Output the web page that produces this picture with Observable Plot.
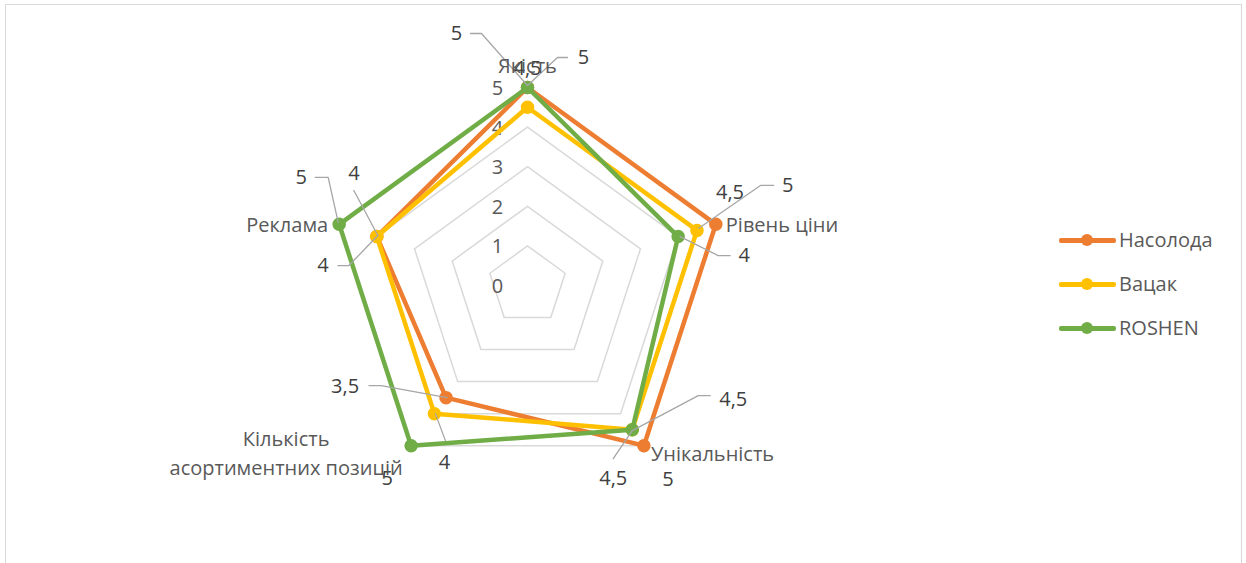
<!DOCTYPE html>
<html>
<head>
<meta charset="utf-8">
<script src="https://cdn.jsdelivr.net/npm/d3@7"></script>
<script src="https://cdn.jsdelivr.net/npm/@observablehq/plot@0.6"></script>
<style>
  html, body { margin: 0; padding: 0; background: #fff; overflow: hidden; }
  body { width: 1246px; height: 563px; position: relative; font-family: "Open Sans", Roboto, sans-serif; }
  #frame { position: absolute; left: 5px; top: 4px; width: 1237px; height: 600px; border: 1.5px solid #d9d9d9; box-sizing: border-box; }
  #chart { position: absolute; left: 0; top: 0; }
  #legend { position: absolute; left: 1059px; top: 226px; }
  .li { position: relative; height: 44px; }
  .ln { position: absolute; left: 0; top: 12px; width: 57px; height: 4.5px; border-radius: 2px; }
  .dot { position: absolute; left: 22px; top: 8px; width: 12px; height: 12px; border-radius: 50%; }
  .lt { position: absolute; left: 60px; top: 1px; font-size: 20px; color: #595959; white-space: nowrap; line-height: 26px; }
</style>
</head>
<body>
<div id="frame"></div>
<div id="chart"></div>
<div id="legend"></div>
<script>
// ---- data ----
const categories = ["Якість", "Рівень ціни", "Унікальність", "Кількість\nасортиментних позицій", "Реклама"];
const seriesNames = ["Насолода", "Вацак", "ROSHEN"];
const nasoloda = [5, 5, 5, 3.5, 4];
const vatsak = [4.5, 4.5, 4.5, 4, 4];
const roshen = [5, 4, 4.5, 5, 5];
const ticks = [0, 1, 2, 3, 4, 5];
const seriesValues = [nasoloda, vatsak, roshen];
const colors = ["#ED7D31", "#FFC000", "#70AD47"];

// ---- layout (styles, pixel offsets) ----
const W = 1246, H = 563, CX = 527, CY = 285, U = 39.6, FS = 20;
// label placement per [series][category]: text offset and leader polyline (px, relative to the point)
const labelLayout = [
  [ {dx:-71,dy:-54,lead:[[-57,-54],[-46,-54],[0,-2]]}, {dx:72,dy:-39,lead:[[58,-39],[45,-39],[-17,4]]}, {dx:24,dy:34}, {dx:-101,dy:-11,lead:[[-77,-12],[-65,-12],[1,0]]}, {dx:-23,dy:-63,lead:[[-23,-46],[1,-1]]} ],
  [ {dx:0,dy:-39}, {dx:33,dy:-38}, {dx:-19,dy:49,lead:[[-19,29],[0,1]]}, {dx:10,dy:49,lead:[[11,27],[1,0]]}, {dx:-54,dy:29,lead:[[-39,29],[-28,29],[1,-1]]} ],
  [ {dx:56,dy:-30,lead:[[40,-30],[30,-30],[0,-2]]}, {dx:66,dy:19,lead:[[52,19],[40,19],[2,0]]}, {dx:101,dy:-30,lead:[[78,-34],[66,-34],[0,1]]}, {dx:-24,dy:33}, {dx:-38,dy:-47,lead:[[-24,-47],[-11,-47],[-1,-2]]} ]
];
const catLayout = [
  {dx:0, dy:-24, anchor:"middle"},
  {dx:10, dy:-2, anchor:"start"},
  {dx:7, dy:6, anchor:"start"},
  {dx:-125, dy:6, anchor:"middle"},
  {dx:-11, dy:-2, anchor:"end"}
];

const ang = i => i * 2 * Math.PI / categories.length;
const px = (i, r) => r * Math.sin(ang(i));
const py = (i, r) => r * Math.cos(ang(i));
const fmt = v => String(v).replace(".", ",");

// grid rings
const grid = [];
for (const t of ticks.filter(t => t > 0)) categories.forEach((c, i) => grid.push({t, x: px(i, t), y: py(i, t)}));

// series points
const pts = [];
seriesValues.forEach((vals, s) => vals.forEach((v, i) => pts.push({s: seriesNames[s], si: s, i, v, x: px(i, v), y: py(i, v)})));

const marks = [];
marks.push(Plot.line(grid, {x: "x", y: "y", z: "t", curve: "linear-closed", stroke: "#d9d9d9", strokeWidth: 1.5}));
marks.push(Plot.text(ticks, {x: () => 0, y: d => d, text: d => String(d), dx: -30, dy: 1, fill: "#595959", fontSize: FS}));

seriesNames.forEach((name, s) => {
  const d = pts.filter(p => p.si === s);
  marks.push(Plot.line(d, {x: "x", y: "y", curve: "linear-closed", stroke: colors[s], strokeWidth: 4.5, strokeLinejoin: "round"}));
  marks.push(Plot.dot(d, {x: "x", y: "y", r: 6, fill: colors[s], stroke: colors[s]}));
});

// leader lines and data labels
pts.forEach(p => {
  const L = labelLayout[p.si][p.i];
  if (L.lead) {
    const path = L.lead.map(([ox, oy]) => ({x: p.x + ox / U, y: p.y - oy / U}));
    marks.push(Plot.line(path, {x: "x", y: "y", stroke: "#a6a6a6", strokeWidth: 1.3}));
  }
});
pts.forEach(p => {
  const L = labelLayout[p.si][p.i];
  marks.push(Plot.text([p], {x: "x", y: "y", text: d => fmt(d.v), dx: L.dx, dy: L.dy, fill: "#404040", fontSize: FS}));
});

// category labels
categories.forEach((c, i) => {
  const L = catLayout[i];
  marks.push(Plot.text([c], {x: () => px(i, 5), y: () => py(i, 5), text: d => d, dx: L.dx, dy: L.dy, textAnchor: L.anchor, lineHeight: 1.45, fill: "#595959", fontSize: FS}));
});

const chart = Plot.plot({
  width: W, height: H,
  marginTop: 0, marginRight: 0, marginBottom: 0, marginLeft: 0,
  x: {domain: [-CX / U, (W - CX) / U], axis: null},
  y: {domain: [-(H - CY) / U, CY / U], axis: null},
  style: {fontFamily: "'Open Sans', Roboto, sans-serif", background: "transparent", overflow: "visible"},
  marks
});
document.getElementById("chart").appendChild(chart);

// legend
const leg = document.getElementById("legend");
seriesNames.forEach((n, s) => {
  const item = document.createElement("div");
  item.className = "li";
  item.innerHTML = `<div class="ln" style="background:${colors[s]}"></div><div class="dot" style="background:${colors[s]}"></div><div class="lt">${n}</div>`;
  leg.appendChild(item);
});
</script>
</body>
</html>
